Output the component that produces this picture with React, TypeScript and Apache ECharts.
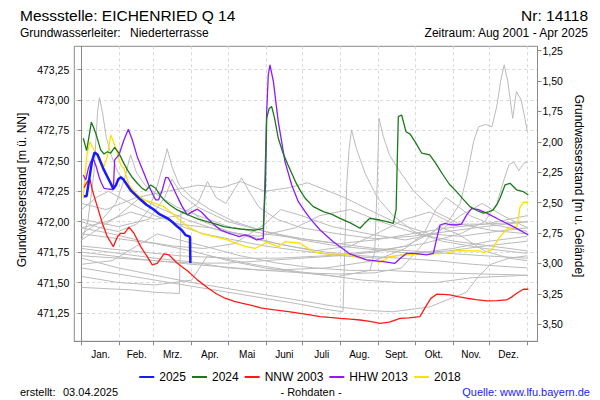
import React, { useEffect, useRef } from 'react';
import * as echarts from 'echarts';

const FONT = "'Liberation Sans', Arial, sans-serif";

// day-of-year of each month start (ticks / vertical grid)
const monthStarts = [0, 31, 59, 90, 120, 151, 181, 212, 243, 273, 304, 334, 365];
const monthNames = ['Jan.', 'Feb.', 'Mrz.', 'Apr.', 'Mai', 'Juni', 'Juli', 'Aug.', 'Sept.', 'Okt.', 'Nov.', 'Dez.'];
const monthMids = monthNames.map((_, i) => (monthStarts[i] + monthStarts[i + 1]) / 2);

// left axis ticks (m ü. NN) and right axis ticks (m u. Gelände)
const levelTicks = [471.25, 471.5, 471.75, 472.0, 472.25, 472.5, 472.75, 473.0, 473.25];
const depthTicks = [1.25, 1.5, 1.75, 2.0, 2.25, 2.5, 2.75, 3.0, 3.25, 3.5];
const groundLevel = 474.657;
const levelMin = 471.017;
const levelMax = 473.442;
const dayMin = -6.06;
const dayMax = 373.3;

// highlighted years: [day of year, level m ü. NN]
const y2025: number[][] = [
  [1.9, 472.21], [4, 472.21], [6, 472.34], [8.5, 472.5], [10.6, 472.57], [13, 472.55], [15.5, 472.49],
  [18, 472.43], [21, 472.37], [23.5, 472.32], [25.9, 472.27], [28, 472.3], [30, 472.35], [32, 472.365],
  [34, 472.35], [36, 472.32], [40, 472.26], [44, 472.22], [48.3, 472.18], [53, 472.14], [59, 472.1],
  [64, 472.06], [70, 472.03], [74, 472.0], [78.3, 471.96], [82, 471.93], [85, 471.89], [88.7, 471.877],
  [89, 471.66],
];
const y2024: number[][] = [
  [1.3, 472.686], [4, 472.584], [6, 472.7], [7.9, 472.818], [9.5, 472.78], [11.5, 472.727], [13.5, 472.66],
  [15.5, 472.59], [18.3, 472.557], [21, 472.575], [23.7, 472.563], [27, 472.612], [30.5, 472.563],
  [34, 472.49], [37.4, 472.426], [41, 472.37], [45.5, 472.316], [49, 472.28], [52.4, 472.255],
  [56.5, 472.302], [60.6, 472.275], [64, 472.22], [67.4, 472.179], [72, 472.14], [78.3, 472.097],
  [84, 472.07], [89.3, 472.047], [96, 472.02], [102.9, 472.0], [110, 471.98], [116.5, 471.96],
  [123, 471.95], [130, 471.94], [136, 471.935], [142, 471.93], [146, 471.94], [148.7, 471.946],
  [150.5, 472.3], [151.5, 472.85], [153.5, 472.93], [155.6, 472.946], [158, 472.85], [161, 472.686],
  [165, 472.56], [169, 472.467], [175, 472.33], [178.8, 472.26], [183, 472.193], [189.7, 472.124],
  [197.9, 472.083], [205, 472.06], [211.5, 472.028], [220, 471.99], [228, 471.946], [232, 471.99],
  [236, 472.028], [244.3, 472.014], [250, 472.0], [255.2, 471.987], [257.5, 472.1], [259.3, 472.864],
  [262, 472.877], [265.6, 472.74], [269, 472.72], [273, 472.658], [278.5, 472.563], [285, 472.549],
  [290, 472.48], [296, 472.384], [301, 472.31], [307, 472.247], [312, 472.19], [318, 472.124],
  [324, 472.09], [329, 472.07], [333, 472.08], [337, 472.097], [340, 472.14], [342.6, 472.193],
  [346.7, 472.302], [350.8, 472.316], [353.5, 472.29], [356.3, 472.261], [361.7, 472.247], [365.8, 472.22],
];
const nnw2003: number[][] = [
  [1.9, 472.28], [4.6, 472.33], [6.8, 472.35], [8.7, 472.26], [12.8, 472.124], [16.9, 471.987],
  [21, 471.877], [25.9, 471.795], [29.2, 471.877], [31.9, 471.905], [35, 471.905], [38.7, 471.955],
  [42.8, 471.905], [48.3, 471.795], [53.7, 471.713], [57.8, 471.645], [61.9, 471.658], [67.4, 471.735],
  [71.5, 471.727], [78.3, 471.658], [87.3, 471.59], [95, 471.52], [103.7, 471.453], [110, 471.41],
  [117.4, 471.371], [125, 471.345], [131, 471.33], [140, 471.31], [147.4, 471.289], [158, 471.275],
  [169.2, 471.261], [178.8, 471.247], [187, 471.235], [195.2, 471.22], [203, 471.213], [211.5, 471.206],
  [220, 471.2], [228, 471.192], [236, 471.18], [244.3, 471.165], [252, 471.175], [260.7, 471.206],
  [268, 471.21], [277, 471.22], [282.6, 471.316], [286, 471.37], [290.7, 471.404], [296, 471.402],
  [301.6, 471.398], [308, 471.385], [315.3, 471.371], [323, 471.36], [331.7, 471.349], [340, 471.352],
  [348, 471.357], [352, 471.38], [356.3, 471.412], [361.7, 471.445], [365.8, 471.445],
];
const hhw2013: number[][] = [
  [1.3, 472.384], [3.3, 472.343], [5.5, 472.44], [7.4, 472.494], [10, 472.508], [12, 472.45],
  [14.2, 472.37], [16, 472.32], [18.3, 472.275], [21, 472.27], [23.7, 472.267], [25.9, 472.262],
  [26.5, 472.4], [27, 472.508], [30.5, 472.549], [34.6, 472.672], [38.2, 472.76], [41.5, 472.672],
  [45.5, 472.535], [51, 472.398], [56.5, 472.261], [60.6, 472.179], [63, 472.18], [66, 472.261],
  [68.8, 472.365], [71, 472.36], [74, 472.3], [78.3, 472.206], [82, 472.13], [86.5, 472.056],
  [90.6, 472.083], [94.7, 472.103], [98, 472.08], [102.9, 472.028], [108, 471.98], [113.8, 471.932],
  [119, 471.91], [124.7, 471.891], [129, 471.877], [133.7, 471.891], [138, 471.88], [143.3, 471.85],
  [148.7, 471.864], [150, 472.3], [151.5, 472.9], [152.8, 473.206], [154.2, 473.289], [157, 473.151],
  [161, 472.823], [166.5, 472.494], [172, 472.302], [177.4, 472.165], [183, 472.083], [187, 472.028],
  [195.2, 471.932], [206, 471.836], [219.7, 471.735], [233.4, 471.686], [247, 471.672], [256.6, 471.658],
  [261, 471.7], [266.2, 471.74], [272, 471.74], [282.6, 471.727], [288, 471.74], [290.5, 471.85],
  [293.5, 471.973], [297.5, 471.987], [302, 471.975], [307, 471.973], [311, 471.98], [315.3, 472.056],
  [319.4, 472.11], [325, 472.1], [331.7, 472.07], [342.6, 472.014], [353.5, 471.96], [365.8, 471.891],
];
const y2018: number[][] = [
  [1.3, 472.19], [4, 472.535], [6.8, 472.658], [10, 472.59], [14.2, 472.535], [18.3, 472.453],
  [21, 472.535], [23.7, 472.713], [26, 472.66], [29.2, 472.563], [31.9, 472.467], [34.5, 472.44],
  [38.7, 472.302], [44.2, 472.234], [51, 472.179], [59.2, 472.152], [67.4, 472.124], [75.6, 472.056],
  [86.5, 471.96], [97.5, 471.905], [108.4, 471.877], [119.3, 471.85], [133, 471.8], [142, 471.78],
  [151.5, 471.831], [161, 471.795], [166.5, 471.836], [178.8, 471.823], [189.7, 471.754],
  [200.7, 471.735], [215, 471.735], [233.4, 471.686], [244.3, 471.667], [252.5, 471.713],
  [263.4, 471.727], [288, 471.735], [298, 471.74], [307, 471.762], [320, 471.76], [326.2, 471.76],
  [329, 471.745], [335.8, 471.768], [342.6, 471.877], [349, 471.946], [353, 471.95], [356.5, 471.96],
  [359, 472.12], [362, 472.16], [365.8, 472.16],
];

// other years (grey background curves)
const grayA = [[0, 471.85], [5, 472.0], [10, 472.4], [13, 472.9], [14.5, 473.02], [17, 472.9], [20, 472.7], [24, 472.55], [30, 472.4], [38, 472.3], [48, 472.2], [58, 472.1], [70, 472.02], [85, 471.95], [100, 471.9], [120, 471.86], [150, 471.8], [180, 471.76], [212, 471.72], [243, 471.7], [273, 471.74], [304, 471.78], [334, 471.84], [365, 471.88]];
const grayB = [[0, 472.0], [15, 471.95], [30, 471.92], [45, 471.98], [55, 472.1], [62, 472.3], [67, 472.48], [70, 472.6], [74, 472.45], [80, 472.3], [90, 472.2], [105, 472.1], [125, 472.0], [150, 471.92], [180, 471.86], [210, 471.82], [240, 471.78], [270, 471.76], [300, 471.74], [330, 471.72], [365, 471.7]];
const grayC = [[0, 471.95], [20, 472.0], [40, 472.08], [60, 472.02], [80, 472.05], [95, 472.15], [103, 472.33], [110, 472.2], [118, 472.15], [126, 472.28], [131, 472.36], [137, 472.25], [145, 472.12], [160, 472.02], [180, 471.95], [210, 471.9], [240, 471.86], [270, 471.88], [300, 471.92], [330, 471.96], [365, 472.0]];
const grayD = [[0, 471.62], [30, 471.57], [60, 471.52], [90, 471.47], [120, 471.42], [150, 471.37], [180, 471.32], [200, 471.28], [214, 471.26], [217, 472.3], [219, 472.6], [221, 472.755], [225, 472.6], [232, 472.4], [242, 472.2], [255, 472.05], [272, 471.92], [295, 471.84], [330, 471.78], [365, 471.74]];
const grayE = [[0, 471.9], [30, 471.86], [60, 471.82], [90, 471.76], [120, 471.68], [150, 471.62], [180, 471.58], [210, 471.55], [236, 471.6], [240, 471.75], [242, 472.3], [243.5, 472.85], [247, 472.7], [252, 472.55], [260, 472.42], [272, 472.25], [290, 472.08], [310, 471.98], [335, 471.93], [365, 471.9]];
const grayF = [[0, 471.46], [20, 471.45], [40, 471.44], [60, 471.42], [80, 471.41], [81.3, 472.08], [88, 472.1], [100, 472.0], [120, 471.92], [145, 471.85], [170, 471.8], [200, 471.75], [230, 471.72], [260, 471.7], [290, 471.68], [320, 471.65], [365, 471.62]];
const grayG = [[0, 471.72], [30, 471.7], [60, 471.68], [90, 471.66], [120, 471.66], [150, 471.68], [180, 471.7], [210, 471.72], [240, 471.75], [265, 471.8], [285, 471.9], [300, 472.0], [310, 472.15], [316, 472.4], [321, 472.66], [325, 472.78], [331, 472.8], [336, 472.78], [340, 472.95], [343, 473.15], [346, 473.29], [349, 473.15], [351, 473.0], [353, 472.85], [356, 473.07], [360, 473.0], [365, 472.74]];
const grayH = [[0, 471.8], [40, 471.76], [80, 471.72], [120, 471.7], [160, 471.7], [200, 471.72], [240, 471.76], [280, 471.82], [310, 471.9], [330, 472.0], [340, 472.15], [346, 472.35], [350, 472.47], [354, 472.49], [358, 472.42], [362, 472.48], [365, 472.49]];
const grayI = [[0, 471.7], [30, 471.62], [60, 471.56], [90, 471.5], [120, 471.45], [150, 471.4], [180, 471.35], [210, 471.3], [235, 471.27], [255, 471.26], [285, 471.3], [305, 471.38], [315, 471.42], [325, 471.55], [335, 471.65], [350, 471.7], [365, 471.72]];
const grayJ = [[0, 471.55], [30, 471.5], [60, 471.48], [90, 471.52], [103, 471.72], [115, 471.7], [140, 471.65], [170, 471.6], [200, 471.56], [230, 471.52], [260, 471.5], [290, 471.5], [320, 471.54], [365, 471.56]];
const grayK = [[0, 472.1], [12, 472.2], [22, 472.25], [40, 472.15], [60, 472.05], [80, 471.98], [105, 471.95], [130, 471.9], [160, 471.82], [190, 471.76], [220, 471.8], [245, 471.92], [265, 472.02], [285, 472.08], [305, 471.98], [330, 471.98], [350, 472.02], [365, 472.05]];
const grayL = [[0, 471.85], [15, 471.95], [30, 472.05], [48, 472.2], [62, 472.12], [85, 472.02], [115, 471.92], [145, 471.88], [175, 471.95], [195, 472.05], [220, 472.1], [245, 472.0], [275, 471.9], [305, 471.84], [335, 471.8], [365, 471.76]];
const grayM = [[0, 471.95], [25, 471.9], [50, 471.84], [75, 471.8], [100, 471.78], [125, 471.82], [150, 471.98], [163, 472.1], [180, 472.05], [205, 471.96], [235, 471.9], [265, 471.85], [290, 471.9], [310, 472.05], [328, 472.15], [345, 472.05], [365, 471.95]];
const grayN = [[0, 471.78], [30, 471.74], [60, 471.7], [90, 471.67], [120, 471.62], [150, 471.6], [180, 471.58], [210, 471.57], [240, 471.58], [262, 471.62], [278, 471.8], [292, 471.96], [308, 471.9], [330, 471.76], [350, 471.7], [365, 471.68]];
const grayO = [[0, 471.65], [25, 471.68], [45, 471.8], [62, 471.9], [80, 471.85], [100, 471.8], [130, 471.72], [160, 471.66], [190, 471.62], [220, 471.6], [250, 471.6], [290, 471.58], [330, 471.57], [365, 471.56]];
const grayP = [[0, 471.9], [15, 472.0], [28, 472.15], [35, 472.35], [40, 472.55], [45, 472.4], [52, 472.3], [62, 472.22], [78, 472.12], [98, 472.04], [120, 471.96], [150, 471.9], [180, 471.86], [210, 471.82], [240, 471.85], [270, 471.9], [300, 471.95], [330, 471.98], [365, 472.0]];
const grayQ = [[0, 471.75], [40, 471.7], [90, 471.65], [150, 471.6], [200, 471.62], [240, 471.68], [265, 471.78], [280, 471.9], [290, 472.1], [298, 472.2], [305, 472.15], [318, 472.05], [335, 471.98], [350, 471.95], [365, 471.92]];
const grayR = [[0, 472.02], [30, 471.96], [55, 472.02], [68, 472.2], [74, 472.35], [82, 472.22], [95, 472.12], [120, 472.0], [150, 471.92], [180, 471.85], [210, 471.8], [240, 471.77], [270, 471.74], [300, 471.76], [330, 471.8], [365, 471.84]];
const grayS = [[0, 472.15], [20, 472.1], [45, 472.2], [70, 472.25], [95, 472.3], [115, 472.28], [130, 472.33], [150, 472.25], [170, 472.28], [185, 472.32], [200, 472.26], [215, 472.2], [235, 472.1], [260, 471.98], [285, 471.9], [310, 471.88], [340, 471.92], [365, 471.95]];
const grayLines = [grayA, grayB, grayC, grayD, grayE, grayF, grayG, grayH, grayI, grayJ, grayK, grayL, grayM, grayN, grayO, grayP, grayQ, grayR, grayS];

const fmt = (v: number) => v.toFixed(2).replace('.', ',');

export default function App() {
  const ref = useRef<HTMLDivElement>(null);
  useEffect(() => {
    const chart = echarts.init(ref.current!, null, { renderer: 'svg' });
    const axisColor = '#8a8a8a';
    const gridLine = { show: true, lineStyle: { color: '#d9d9d9', type: [3, 3] as any, width: 1 } };

    const highlight = (name: string, data: number[][], color: string, width: number, z: number) => ({
      name, type: 'line', data, color, showSymbol: false, symbol: 'none', z,
      lineStyle: { color, width }, itemStyle: { color }, silent: true,
    });

    const option: any = {
      animation: false,
      backgroundColor: '#ffffff',
      textStyle: { fontFamily: FONT },
      grid: { left: 74.3, right: 62.5, top: 46.3, bottom: 58.7, show: true, borderColor: axisColor, borderWidth: 1 },
      xAxis: {
        type: 'value', min: dayMin, max: dayMax,
        axisLine: { show: true, onZero: false, lineStyle: { color: axisColor } },
        axisTick: { show: true, customValues: monthStarts, length: 4, lineStyle: { color: axisColor } },
        axisLabel: {
          customValues: monthMids, fontSize: 10, color: '#000', margin: 8, fontFamily: FONT,
          formatter: (v: number) => {
            const i = monthMids.findIndex((m) => Math.abs(m - v) < 1);
            return i >= 0 ? monthNames[i] : '';
          },
        },
        splitLine: gridLine,
      },
      yAxis: [
        {
          type: 'value', min: levelMin, max: levelMax, position: 'left',
          axisLine: { show: true, lineStyle: { color: axisColor } },
          axisTick: { show: true, customValues: levelTicks, length: 4, lineStyle: { color: axisColor } },
          axisLabel: { customValues: levelTicks, formatter: fmt, fontSize: 10.5, color: '#000', margin: 5, fontFamily: FONT },
          splitLine: gridLine,
        },
        {
          type: 'value', min: groundLevel - levelMax, max: groundLevel - levelMin, inverse: true, position: 'right',
          axisLine: { show: true, lineStyle: { color: axisColor } },
          axisTick: { show: true, customValues: depthTicks, length: 4, lineStyle: { color: axisColor } },
          axisLabel: { customValues: depthTicks, formatter: fmt, fontSize: 10.5, color: '#000', margin: 5, fontFamily: FONT },
          splitLine: { show: false },
        },
      ],
      legend: {
        data: ['2025', '2024', 'NNW 2003', 'HHW 2013', '2018'],
        left: 'center', top: 366, icon: 'rect', itemWidth: 15, itemHeight: 2, itemGap: 6,
        textStyle: { fontSize: 12, color: '#000', fontFamily: FONT },
        selectedMode: false,
      },
      graphic: [
        { type: 'text', x: 20, y: 15, style: { text: 'Messstelle: EICHENRIED Q 14', font: `15.5px ${FONT}`, fill: '#000', textVerticalAlign: 'middle' } },
        { type: 'text', x: 588, y: 15, style: { text: 'Nr: 14118', font: `15.5px ${FONT}`, fill: '#000', textAlign: 'right', textVerticalAlign: 'middle' } },
        { type: 'text', x: 20, y: 33, style: { text: 'Grundwasserleiter:', font: `12px ${FONT}`, fill: '#000', textVerticalAlign: 'middle' } },
        { type: 'text', x: 130, y: 33, style: { text: 'Niederterrasse', font: `12px ${FONT}`, fill: '#000', textVerticalAlign: 'middle' } },
        { type: 'text', x: 588, y: 33, style: { text: 'Zeitraum: Aug 2001 - Apr 2025', font: `12px ${FONT}`, fill: '#000', textAlign: 'right', textVerticalAlign: 'middle' } },
        { type: 'text', x: 22, y: 190, rotation: Math.PI / 2, style: { text: 'Grundwasserstand [m ü. NN]', font: `12px ${FONT}`, fill: '#000', textAlign: 'center', textVerticalAlign: 'middle' } },
        { type: 'text', x: 579, y: 186, rotation: -Math.PI / 2, style: { text: 'Grundwasserstand [m u. Gelände]', font: `12px ${FONT}`, fill: '#000', textAlign: 'center', textVerticalAlign: 'middle' } },
        { type: 'text', x: 20, y: 392, style: { text: 'erstellt:', font: `11px ${FONT}`, fill: '#000', textVerticalAlign: 'middle' } },
        { type: 'text', x: 63, y: 392, style: { text: '03.04.2025', font: `11px ${FONT}`, fill: '#000', textVerticalAlign: 'middle' } },
        { type: 'text', x: 311, y: 392, style: { text: '- Rohdaten -', font: `11px ${FONT}`, fill: '#000', textAlign: 'center', textVerticalAlign: 'middle' } },
        { type: 'text', x: 590, y: 392, style: { text: 'Quelle: www.lfu.bayern.de', font: `11px ${FONT}`, fill: '#1a1aff', textAlign: 'right', textVerticalAlign: 'middle' } },
      ],
      series: [
        ...grayLines.map((d, i) => ({
          name: 'other' + i, type: 'line', data: d, showSymbol: false, symbol: 'none', silent: true, z: 1,
          color: '#bbbbbb', lineStyle: { color: '#bbbbbb', width: 1 },
        })),
        highlight('2018', y2018, '#ffe000', 1.3, 3),
        highlight('HHW 2013', hhw2013, '#8c1aff', 1.3, 4),
        highlight('NNW 2003', nnw2003, '#ff1a1a', 1.3, 5),
        highlight('2024', y2024, '#1a7a1a', 1.3, 6),
        highlight('2025', y2025, '#1a1aff', 2.5, 7),
      ],
    };
    chart.setOption(option);
    return () => chart.dispose();
  }, []);
  return <div ref={ref} style={{ position: 'absolute', left: 0, top: 0, width: 600, height: 400 }} />;
}
